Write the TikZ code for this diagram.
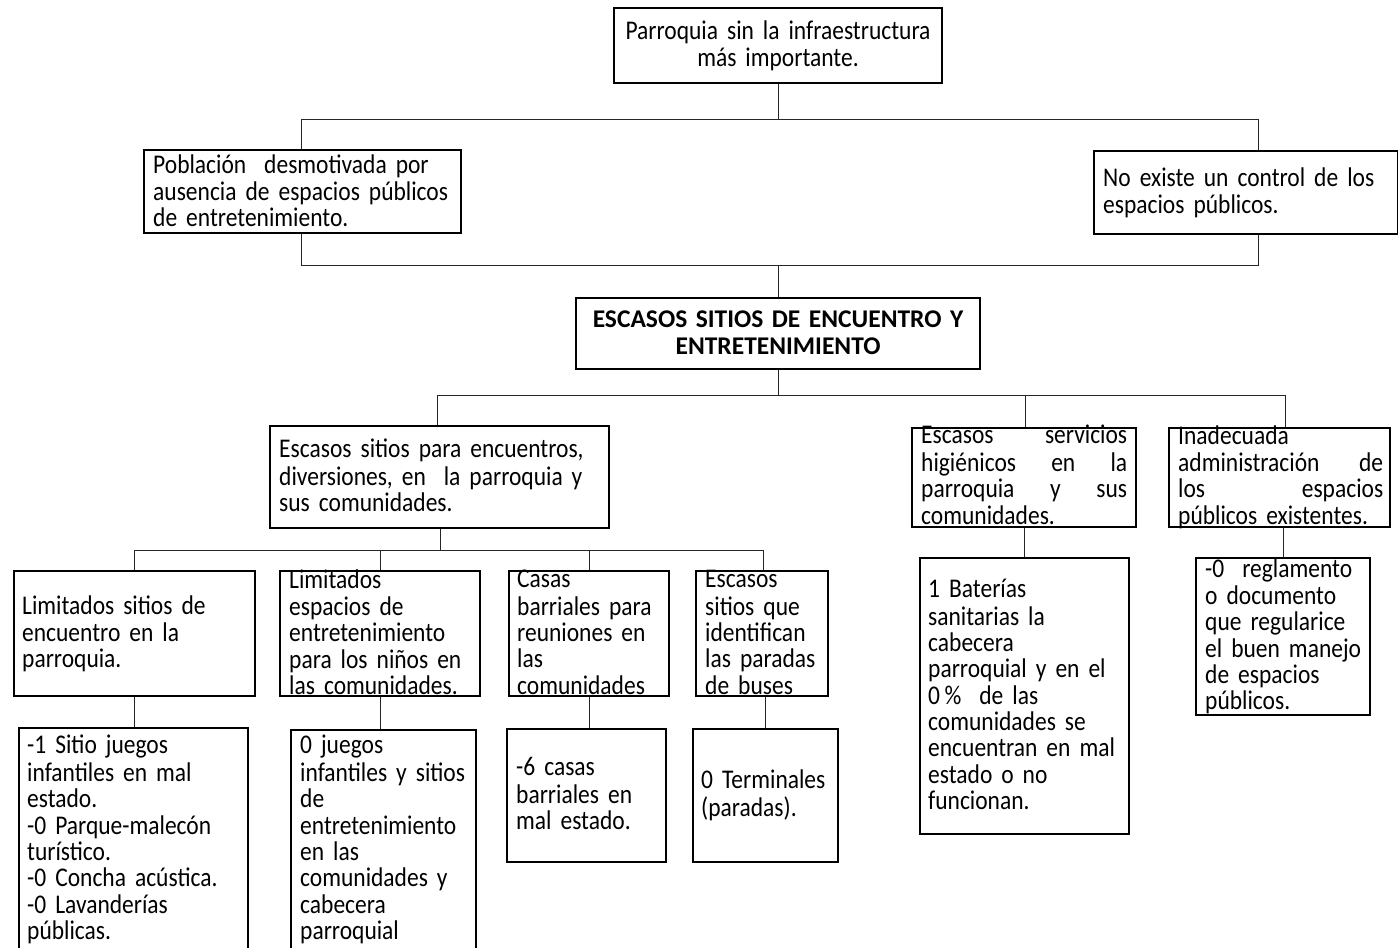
\documentclass[tikz,border=0pt]{standalone}
\usepackage{fontspec}
\setmainfont{Carlito}[FakeStretch=0.87]
\newfontfamily\plainfont{Carlito}
\newcommand\fs{\fontsize{27}{26.3}\selectfont}
\newcommand\fsb{\plainfont\fontsize{25.5}{27}\selectfont\bfseries}
\tikzset{
  box/.style={draw=black, line width=1.6pt, inner sep=0pt, fill=none},
  link/.style={draw=black!85, line width=0.9pt},
  txt/.style={inner sep=0pt, anchor=north west, align=left, text width=#1, font=\fs},
  ctxt/.style={inner sep=0pt, anchor=north, align=center, text width=#1, font=\fs},
}
\begin{document}
\begin{tikzpicture}[x=1pt,y=-1pt]
\useasboundingbox (0,0) rectangle (1399,947);
\clip (0,0) rectangle (1399,947);
% boxes
\node[box, minimum width=328pt, minimum height=75pt] (top) at (778,45.5) {};
\node[box, minimum width=317pt, minimum height=83pt] (pob) at (302.5,191.5) {};
\node[box, minimum width=303.5pt, minimum height=83pt] (noex) at (1245.75,192.5) {};
\node[box, minimum width=404pt, minimum height=71pt] (cen) at (778,333.5) {};
\node[box, minimum width=339pt, minimum height=102pt] (l2a) at (439.5,477) {};
\node[box, minimum width=224pt, minimum height=99pt] (l2b) at (1024,477.5) {};
\node[box, minimum width=221pt, minimum height=99pt] (l2c) at (1279.5,477.5) {};
\node[box, minimum width=241pt, minimum height=125pt] (l3a) at (134.5,633.5) {};
\node[box, minimum width=200pt, minimum height=125pt] (l3b) at (380,633.5) {};
\node[box, minimum width=160pt, minimum height=125pt] (l3c) at (589,633.5) {};
\node[box, minimum width=132pt, minimum height=125pt] (l3d) at (762,633.5) {};
\node[box, minimum width=229pt, minimum height=224pt] (l4a) at (133.5,840) {};
\node[box, minimum width=185pt, minimum height=222pt] (l4b) at (383.5,841) {};
\node[box, minimum width=159pt, minimum height=133pt] (l4c) at (586.5,795.5) {};
\node[box, minimum width=145pt, minimum height=133pt] (l4d) at (765.5,795.5) {};
\node[box, minimum width=209pt, minimum height=276pt] (e4) at (1024.5,696) {};
\node[box, minimum width=174pt, minimum height=157pt] (f4) at (1283,636.5) {};
% texts
\node[ctxt=326pt] (ttop) at (778,20.1) {\strut Parroquia sin la infraestructura\\más importante.};
\node[txt=315pt] (tpob) at (153,154.1) {\strut Población\ \ desmotivada por\\ausencia de espacios públicos\\de entretenimiento.};
\node[txt=295pt] (tnoex) at (1103,167.1) {\strut No existe un control de los\\espacios públicos.};
\node[ctxt=420pt, font=\fsb] (tcen) at (778,308.1) {\strut ESCASOS SITIOS DE ENCUENTRO Y\\ENTRETENIMIENTO};
\node[txt=335pt] (tl2a) at (279,439.1) {\strut Escasos sitios para encuentros,\\diversiones, en\ \ la parroquia y\\sus comunidades.};
\node[txt=206pt] (tl2b) at (921,425.1) {\strut Escasos\hfill servicios\\higiénicos\hfill en\hfill la\\parroquia\hfill y\hfill sus\\comunidades.};
\node[txt=205pt] (tl2c) at (1178,425.1) {\strut Inadecuada\\administración\hfill de\\los\hfill espacios\\\mbox{públicos existentes.}};
\node[txt=240pt] (tl3a) at (22,595.1) {\strut Limitados sitios de\\encuentro en la\\parroquia.};
\node[txt=240pt] (tl3b) at (289,569.1) {\strut Limitados\\espacios de\\entretenimiento\\para los niños en\\las comunidades.};
\node[txt=200pt] (tl3c) at (517,569.1) {\strut Casas\\barriales para\\reuniones en\\las\\comunidades};
\node[txt=200pt] (tl3d) at (705,569.1) {\strut Escasos\\sitios que\\identifican\\las paradas\\de buses};
\node[txt=240pt] (tl4a) at (27,735.1) {\strut -1 Sitio juegos\\infantiles en mal\\estado.\\-0 Parque-malecón\\turístico.\\-0 Concha acústica.\\-0 Lavanderías\\públicas.};
\node[txt=240pt] (tl4b) at (300,735.1) {\strut 0 juegos\\infantiles y sitios\\de\\entretenimiento\\en las\\comunidades y\\cabecera\\parroquial};
\node[txt=200pt] (tl4c) at (516,757.1) {\strut -6 casas\\barriales en\\mal estado.};
\node[txt=200pt] (tl4d) at (701,769.1) {\strut 0 Terminales\\(paradas).};
\node[txt=240pt] (te4) at (928,579.1) {\strut 1 Baterías\\sanitarias la\\cabecera\\parroquial y en el\\0\,\%\ \ de las\\comunidades se\\encuentran en mal\\estado o no\\funcionan.};
\node[txt=200pt] (tf4) at (1205,558.1) {\strut -0\ \ reglamento\\o documento\\que regularice\\el buen manejo\\de espacios\\públicos.};
% junction coordinates
\coordinate (j1L) at (301,119);
\coordinate (j1R) at (1258,119);
\coordinate (j2L) at (301,265);
\coordinate (j2R) at (1258,265);
\coordinate (j3L) at (437,395);
\coordinate (j3M) at (1025,395);
\coordinate (j3R) at (1285,395);
\coordinate (j4m) at (440,550);
\coordinate (j4a) at (134,550);
\coordinate (j4b) at (380,550);
\coordinate (j4c) at (589,550);
\coordinate (j4d) at (763,550);
% connectors
\draw[link] (top.south) -- (top.south |- j1L);
\draw[link] (pob.north -| j1L) -- (j1L) -- (j1R) -- (noex.north -| j1R);
\draw[link] (pob.south -| j2L) -- (j2L) -- (j2R) -- (noex.south -| j2R);
\draw[link] (cen.north |- j2L) -- (cen.north);
\draw[link] (cen.south) -- (cen.south |- j3L);
\draw[link] (l2a.north -| j3L) -- (j3L) -- (j3R) -- (l2c.north -| j3R);
\draw[link] (j3M) -- (l2b.north -| j3M);
\draw[link] (l2a.south -| j4m) -- (j4m);
\draw[link] (j4a) -- (j4d);
\draw[link] (j4a) -- (l3a.north -| j4a);
\draw[link] (j4b) -- (l3b.north -| j4b);
\draw[link] (j4c) -- (l3c.north -| j4c);
\draw[link] (j4d) -- (l3d.north -| j4d);
\draw[link] (l3a.south -| j4a) -- (l4a.north -| j4a);
\draw[link] (l3b.south) -- (l3b.south |- l4b.north);
\draw[link] (l3c.south) -- (l3c.south |- l4c.north);
\draw[link] (l4d.north) -- (l4d.north |- l3d.south);
\draw[link] (l2b.south) -- (l2b.south |- e4.north);
\draw[link] (f4.north) -- (f4.north |- l2c.south);
\end{tikzpicture}
\end{document}
